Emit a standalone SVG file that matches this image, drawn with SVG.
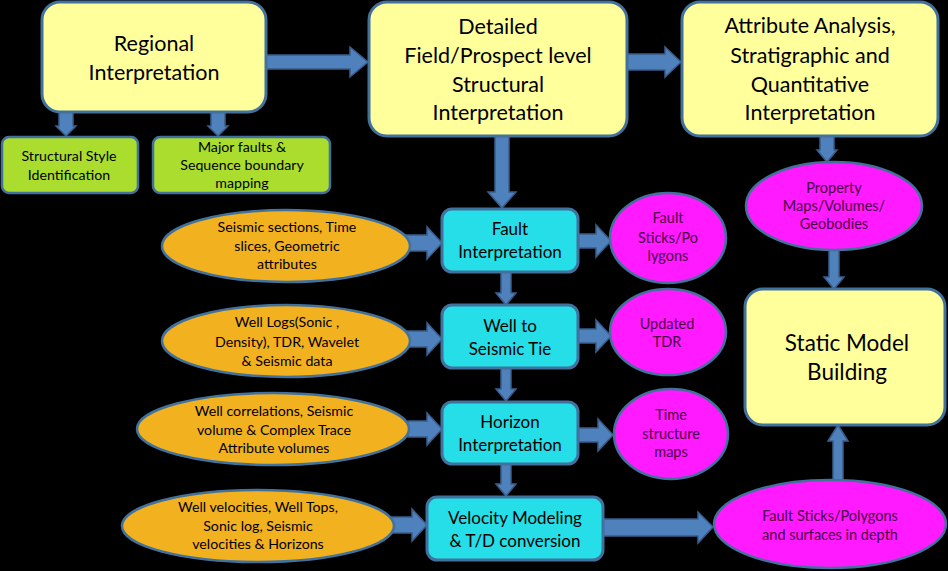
<svg xmlns="http://www.w3.org/2000/svg" width="948" height="571" viewBox="0 0 948 571">
<style>
text{font-family:Lato,"Open Sans","Liberation Sans",sans-serif;text-anchor:middle;fill:#000}
.yel{fill:#FFFF9B;stroke:#41719C;stroke-width:3}
.grn{fill:#AADD2E;stroke:#41719C;stroke-width:2.5}
.cyn{fill:#25DEE8;stroke:#41719C;stroke-width:3}
.org{fill:#F2B11F;stroke:#41719C;stroke-width:2.5}
.mag{fill:#FF1AFF;stroke:#41719C;stroke-width:2.5}
.arr{fill:#4F81BD;stroke:#385D8A;stroke-width:1.5;stroke-linejoin:miter}
.t22{font-size:21.5px}
.t18{font-size:17px}
.t14{font-size:14.2px}
.mt{fill:#4A0048;font-size:14.5px}
</style>
<rect width="948" height="571" fill="#000"/>
<g id="connectors">
<polygon class="arr" points="266,55 350,55 350,47 368,62 350,77 350,69 266,69"/>
<polygon class="arr" points="627,54 665,54 665,47 681,62 665,77 665,70 627,70"/>
<polygon class="arr" points="59,112 73,112 73,126 76,126 66,136 56,126 59,126"/>
<polygon class="arr" points="211,112 225,112 225,126 228,126 218,136 208,126 211,126"/>
<polygon class="arr" points="495,136 509,136 509,192 516,192 502,208 488,192 495,192"/>
<polygon class="arr" points="501,271 511,271 511,293 516,293 506,305 496,293 501,293"/>
<polygon class="arr" points="501,368 511,368 511,389 516,389 506,401 496,389 501,389"/>
<polygon class="arr" points="501,464 511,464 511,484 516,484 506,496 496,484 501,484"/>
<polygon class="arr" points="406,235 427,235 427,227 442,243 427,259 427,251 406,251"/>
<polygon class="arr" points="406,331 427,331 427,323 442,339 427,355 427,347 406,347"/>
<polygon class="arr" points="408,421 427,421 427,413 442,429 427,445 427,437 408,437"/>
<polygon class="arr" points="391,517 412,517 412,509 427,525 412,541 412,533 391,533"/>
<polygon class="arr" points="577,234 596,234 596,225 611,241 596,257 596,248 577,248"/>
<polygon class="arr" points="577,329 596,329 596,320 611,336 596,352 596,343 577,343"/>
<polygon class="arr" points="577,428 598,428 598,419 613,435 598,451 598,442 577,442"/>
<polygon class="arr" points="603,519 698,519 698,512 713,527 698,543 698,536 603,536"/>
<polygon class="arr" points="820,136 834,136 834,150 837,150 827,162 817,150 820,150"/>
<polygon class="arr" points="829,250 839,250 839,277 844,277 834,289 824,277 829,277"/>
<polygon class="arr" points="833,480 843,480 843,441 848,441 838,425 828,441 833,441"/>
</g>
<g id="regional">
<rect class="yel" x="42" y="2" width="224" height="110" rx="18"/>
<text class="t22" x="154" y="51">Regional</text>
<text class="t22" x="154" y="80">Interpretation</text>
</g>
<g id="detailed">
<rect class="yel" x="369" y="2" width="258" height="134" rx="18"/>
<text class="t22" x="498" y="34">Detailed</text>
<text class="t22" x="498" y="63">Field/Prospect level</text>
<text class="t22" x="498" y="92">Structural</text>
<text class="t22" x="498" y="120">Interpretation</text>
</g>
<g id="attribute">
<rect class="yel" x="682" y="2" width="256" height="134" rx="18"/>
<text class="t22" x="810" y="33">Attribute Analysis,</text>
<text class="t22" x="810" y="63">Stratigraphic and</text>
<text class="t22" x="810" y="92">Quantitative</text>
<text class="t22" x="810" y="120">Interpretation</text>
</g>
<g id="structural-style">
<rect class="grn" x="2" y="137" width="136" height="56" rx="7"/>
<text class="t14" x="69" y="161">Structural Style</text>
<text class="t14" x="69" y="180">Identification</text>
</g>
<g id="major-faults">
<rect class="grn" x="153" y="137" width="177" height="56" rx="7"/>
<text class="t14" x="242" y="152">Major faults &amp;</text>
<text class="t14" x="242" y="170">Sequence boundary</text>
<text class="t14" x="242" y="188">mapping</text>
</g>
<g id="seismic-sections">
<ellipse class="org" cx="286" cy="246" rx="124" ry="36"/>
<text class="t14" x="287" y="232">Seismic sections, Time</text>
<text class="t14" x="287" y="251">slices, Geometric</text>
<text class="t14" x="287" y="269">attributes</text>
</g>
<g id="well-logs">
<ellipse class="org" cx="286" cy="341" rx="124" ry="36"/>
<text class="t14" x="287" y="327">Well Logs(Sonic ,</text>
<text class="t14" x="287" y="347">Density), TDR, Wavelet</text>
<text class="t14" x="287" y="366">&amp; Seismic data</text>
</g>
<g id="well-correlations">
<ellipse class="org" cx="273" cy="429" rx="136" ry="36"/>
<text class="t14" x="274" y="416">Well correlations, Seismic</text>
<text class="t14" x="274" y="435">volume &amp; Complex Trace</text>
<text class="t14" x="274" y="453">Attribute volumes</text>
</g>
<g id="well-velocities">
<ellipse class="org" cx="258" cy="526" rx="136" ry="36"/>
<text class="t14" x="258" y="512">Well velocities, Well Tops,</text>
<text class="t14" x="258" y="531">Sonic log, Seismic</text>
<text class="t14" x="258" y="549">velocities &amp; Horizons</text>
</g>
<g id="fault-interpretation">
<rect class="cyn" x="442" y="209" width="136" height="63" rx="10"/>
<text class="t18" x="510" y="235">Fault</text>
<text class="t18" x="510" y="258">Interpretation</text>
</g>
<g id="well-tie">
<rect class="cyn" x="442" y="305" width="136" height="63" rx="10"/>
<text class="t18" x="510" y="332">Well to</text>
<text class="t18" x="510" y="355">Seismic Tie</text>
</g>
<g id="horizon-interpretation">
<rect class="cyn" x="442" y="402" width="136" height="62" rx="10"/>
<text class="t18" x="510" y="428">Horizon</text>
<text class="t18" x="510" y="451">Interpretation</text>
</g>
<g id="velocity-modeling">
<rect class="cyn" x="427" y="497" width="176" height="63" rx="10"/>
<text class="t18" x="515" y="524">Velocity Modeling</text>
<text class="t18" x="515" y="547">&amp; T/D conversion</text>
</g>
<g id="fault-sticks">
<ellipse class="mag" cx="668" cy="238" rx="58" ry="45"/>
<text class="mt" x="668" y="223">Fault</text>
<text class="mt" x="668" y="243">Sticks/Po</text>
<text class="mt" x="668" y="261">lygons</text>
</g>
<g id="updated-tdr">
<ellipse class="mag" cx="668" cy="332" rx="58" ry="43"/>
<text class="mt" x="667" y="329">Updated</text>
<text class="mt" x="667" y="347">TDR</text>
</g>
<g id="time-structure">
<ellipse class="mag" cx="671" cy="434" rx="57" ry="45"/>
<text class="mt" x="671" y="420">Time</text>
<text class="mt" x="671" y="439">structure</text>
<text class="mt" x="671" y="457">maps</text>
</g>
<g id="property-maps">
<ellipse class="mag" cx="834" cy="206" rx="88" ry="44"/>
<text class="mt" x="834" y="193">Property</text>
<text class="mt" x="834" y="211">Maps/Volumes/</text>
<text class="mt" x="834" y="229">Geobodies</text>
</g>
<g id="static-model">
<rect class="yel" x="745" y="289" width="200" height="136" rx="18"/>
<text x="847" y="351" style="font-size:22.5px">Static Model</text>
<text x="847" y="380" style="font-size:22.5px">Building</text>
</g>
<g id="depth-surfaces">
<ellipse class="mag" cx="830" cy="524" rx="116" ry="44"/>
<text class="mt" x="830" y="521">Fault Sticks/Polygons</text>
<text class="mt" x="830" y="540">and surfaces in depth</text>
</g>
</svg>
